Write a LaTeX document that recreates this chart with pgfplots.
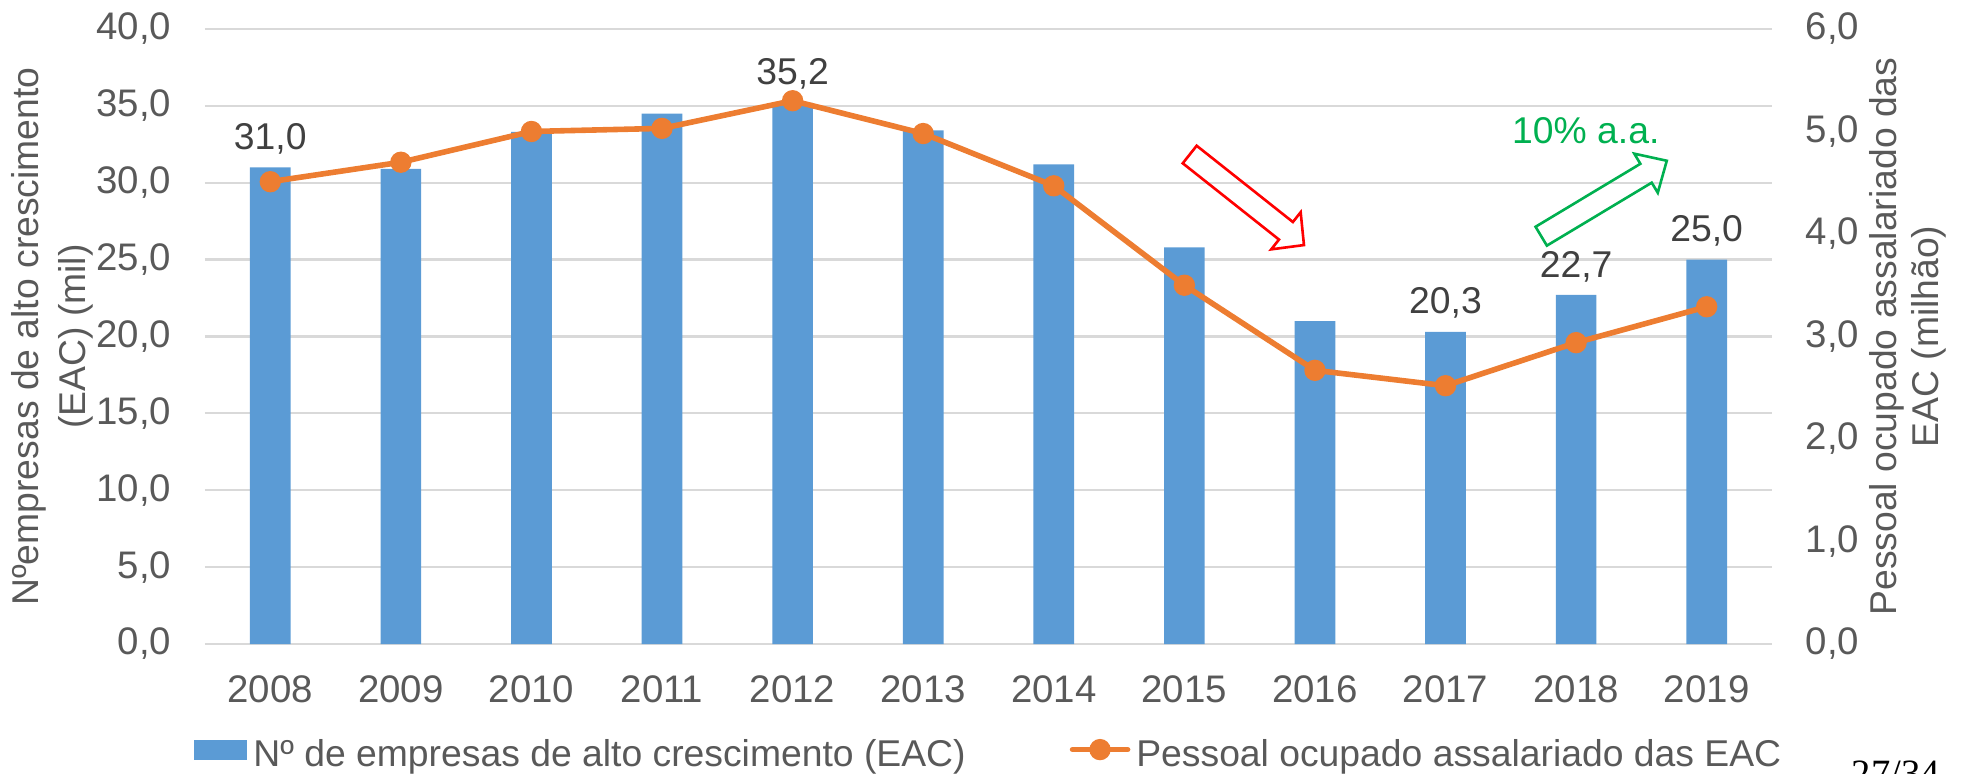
\documentclass[border=0pt]{standalone}
\usepackage{fontspec}
\setmainfont{Liberation Sans}
\newfontfamily\seriffont{Liberation Serif}
\usepackage{pgfplots}
\pgfplotsset{compat=1.18}
\definecolor{barblue}{HTML}{5B9BD5}
\definecolor{lineorange}{HTML}{ED7D31}
\definecolor{ticktext}{HTML}{595959}
\definecolor{labeltext}{HTML}{404040}
\definecolor{gridgray}{HTML}{D9D9D9}
\definecolor{upgreen}{HTML}{00B050}

% one pixel of the reference = 0.2681pt
\pgfplotsset{
  eac/.style={
    scale only axis, width=420.1pt, height=164.9pt,
    at={(54.96pt,34.58pt)}, anchor=south west,
    xmin=-0.5, xmax=11.5,
    axis line style={draw=none},
    major tick length=0pt,
    tick label style={text=ticktext, inner sep=0pt, font=\fontsize{10.3}{12}\selectfont},
    /pgf/number format/assume math mode=true,
    yticklabel style={/pgf/number format/fixed, /pgf/number format/fixed zerofill,
                      /pgf/number format/precision=1, /pgf/number format/use comma},
    yticklabel shift=8.85pt,
  },
}

\begin{document}
\begin{tikzpicture}
\useasboundingbox (0,0) rectangle (527.08pt,207.24pt);

% left axis: number of high-growth firms (thousand)
\begin{axis}[eac,
  ymin=0, ymax=40, ytick={0,5,...,40},
  xtick={0,...,11},
  xticklabels={2008,2009,2010,2011,2012,2013,2014,2015,2016,2017,2018,2019},
  xticklabel shift=8.2pt,
  ymajorgrids, grid style={gridgray, line width=0.6pt},
  ylabel={Nºempresas de alto crescimento\\(EAC) (mil)},
  ylabel style={at={(axis description cs:-0.0976,0.5)}, anchor=center,
                align=center, font=\fontsize{10}{12.6}\selectfont, text=ticktext},
]
\addplot[ybar, bar width=10.9pt, bar shift=0pt, fill=barblue, draw=none]
  coordinates {
    (0,31.0) (1,30.9) (2,33.3) (3,34.5) (4,35.2) (5,33.4)
    (6,31.2) (7,25.8) (8,21.0) (9,20.3) (10,22.7) (11,25.0)
  };
% value labels shown above selected bars
\addplot[draw=none, mark=none, point meta=y, nodes near coords,
  nodes near coords style={anchor=base, yshift=4.8pt, inner sep=0pt, text=labeltext,
    /pgf/number format/fixed, /pgf/number format/fixed zerofill,
    /pgf/number format/precision=1, /pgf/number format/use comma,
    /pgf/number format/assume math mode=true}]
  coordinates {(0,31.0) (4,35.2) (9,20.3) (10,22.7) (11,25.0)};
\end{axis}

% right axis: salaried employees (million)
\begin{axis}[eac,
  ymin=0, ymax=6, ytick={0,...,6},
  axis y line*=right, hide x axis,
  ylabel={Pessoal ocupado assalariado das\\EAC (milhão)},
  ylabel style={at={(axis description cs:1.0868,0.5)}, anchor=center,
                align=center, font=\fontsize{10}{11.2}\selectfont, text=ticktext},
  legend columns=2,
  legend style={at={(axis description cs:-0.00702,-0.1811)}, anchor=west,
    draw=none, fill=none, inner sep=0pt, outer sep=0pt, text=ticktext,
    nodes={inner sep=0pt},
    /tikz/every odd column/.style={column sep=1.6pt},
    /tikz/every even column/.style={column sep=27.9pt}},
]
\addlegendimage{legend image code/.code={\fill[barblue] (0pt,-1.1pt) rectangle (13.94pt,3.9pt);}}
\addlegendentry{Nº de empresas de alto crescimento (EAC)}
\addplot[lineorange, line width=1.5pt, mark=*, mark size=2.1pt,
  legend image code/.code={
    \draw[lineorange, line width=1.5pt, line cap=round] (0pt,1.6pt) -- (14.75pt,1.6pt);
    \fill[lineorange] (7.37pt,1.6pt) circle[radius=2.1pt];}]
  coordinates {
    (0,4.51) (1,4.70) (2,5.00) (3,5.03) (4,5.30) (5,4.98)
    (6,4.47) (7,3.50) (8,2.67) (9,2.52) (10,2.94) (11,3.29)
  };
\addlegendentry{Pessoal ocupado assalariado das EAC}
\end{axis}

% annotations
\begin{scope}[x=0.2681pt, y=0.2681pt]
  \begin{scope}[shift={(1189.7,618.5)}, rotate=-38.4]
    \draw[red, line width=0.7pt, line join=miter]
      (0,-11.2) -- (122.8,-11.2) -- (122.8,-23.7) -- (145.8,0)
      -- (122.8,23.7) -- (122.8,11.2) -- (0,11.2) -- cycle;
  \end{scope}
  \begin{scope}[shift={(1541.2,536.8)}, rotate=31.0]
    \draw[upgreen, line width=0.7pt, line join=miter]
      (0,-11) -- (122.3,-11) -- (122.3,-22.8) -- (146.5,0)
      -- (122.3,22.8) -- (122.3,11) -- (0,11) -- cycle;
  \end{scope}
  \node[text=upgreen, inner sep=0pt] at (1585.8,642.2) {10\% a.a.};
  \node[anchor=base west, inner sep=0pt, font=\seriffont\fontsize{10.36}{12}\selectfont]
    at (1851,-13) {27/34};
\end{scope}
\end{tikzpicture}
\end{document}
